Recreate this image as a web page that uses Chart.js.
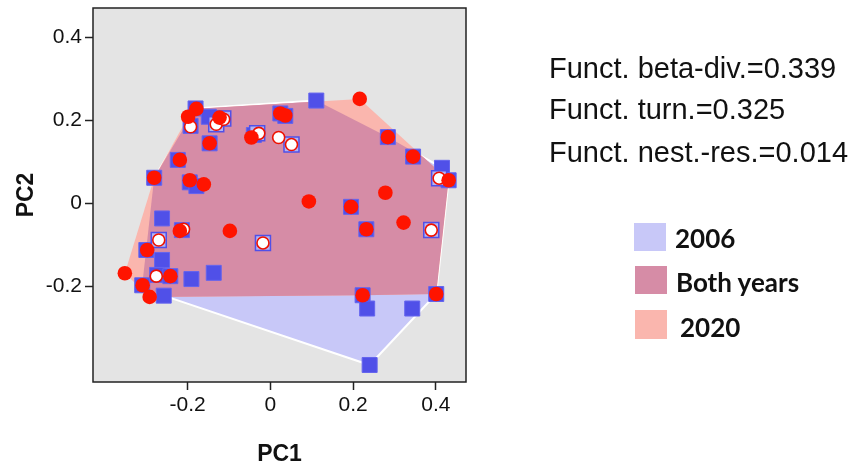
<!DOCTYPE html>
<html>
<head>
<meta charset="utf-8">
<title>Functional space 2006 / 2020</title>
<script src="https://cdn.jsdelivr.net/npm/chart.js@4.4.0/dist/chart.umd.min.js"></script>
<style>
    html, body { margin: 0; padding: 0; background: #ffffff; }
    #wrap { position: relative; width: 848px; height: 467px; overflow: hidden; }
    #pca { position: absolute; left: 0; top: 0; }
    .stat {
        position: absolute; left: 549px; height: 42px; line-height: 42px;
        font: 29px "Liberation Sans", Arial, sans-serif; color: #111; white-space: nowrap;
    }
    .key { position: absolute; width: 32px; height: 28px; }
    .keytxt {
        position: absolute; height: 30px; line-height: 30px;
        font: bold 26px Lato, "Open Sans", sans-serif; color: #111; white-space: nowrap;
    }
</style>
</head>
<body>
<div id="wrap">
    <canvas id="pca" width="848" height="467"></canvas>

    <div class="stat" style="top:52px">Funct. beta-div.=0.339</div>
    <div class="stat" style="top:93px">Funct. turn.=0.325</div>
    <div class="stat" style="top:136px">Funct. nest.-res.=0.014</div>

    <div class="key" style="left:634px; top:223px; background:#c8c8f8"></div>
    <div class="keytxt" style="left:675px; top:222px">2006</div>
    <div class="key" style="left:635px; top:266px; background:#d68ca6"></div>
    <div class="keytxt" style="left:676px; top:266px">Both years</div>
    <div class="key" style="left:635px; top:310px; height:29px; background:#fab6ae"></div>
    <div class="keytxt" style="left:680px; top:311px">2020</div>
</div>

<script>
// ============================================================================
// DATA (PC1, PC2)
// ============================================================================

// 2006 sites, filled squares
const sites2006 = [
    [-0.181, 0.228], [-0.149, 0.208], [-0.147, 0.144], [-0.224, 0.104],
    [-0.281, 0.061], [-0.195, 0.050], [-0.179, 0.041], [-0.040, 0.164],
    [0.024, 0.216], [0.036, 0.210], [0.111, 0.247], [0.284, 0.159],
    [0.345, 0.112], [0.415, 0.085], [0.431, 0.055], [0.195, -0.009],
    [0.232, -0.063], [0.223, -0.222], [0.234, -0.254], [0.343, -0.254],
    [0.401, -0.219], [0.240, -0.390], [-0.262, -0.037], [-0.214, -0.065],
    [-0.300, -0.113], [-0.262, -0.137], [-0.274, -0.173], [-0.242, -0.176],
    [-0.191, -0.183], [-0.137, -0.168], [-0.310, -0.198], [-0.258, -0.223],
    [-0.193, 0.186]
];

// 2006 sites, open squares (under the white circles)
const sites2006Open = [
    [-0.131, 0.190], [-0.114, 0.204], [-0.032, 0.168], [0.051, 0.141],
    [0.408, 0.060], [0.389, -0.065], [-0.018, -0.096], [-0.270, -0.089]
];

// 2020 sites, filled red circles
const sites2020 = [
    [-0.179, 0.227], [-0.199, 0.208], [-0.123, 0.206], [-0.147, 0.144],
    [-0.219, 0.104], [-0.281, 0.061], [-0.195, 0.055], [-0.161, 0.045],
    [-0.046, 0.158], [0.024, 0.216], [0.036, 0.211], [0.216, 0.251],
    [0.284, 0.159], [0.345, 0.112], [0.431, 0.055], [0.278, 0.025],
    [0.093, 0.004], [0.195, -0.009], [0.232, -0.063], [0.322, -0.047],
    [0.223, -0.222], [0.401, -0.219], [-0.098, -0.067], [-0.219, -0.067],
    [-0.298, -0.113], [-0.352, -0.169], [-0.242, -0.176], [-0.309, -0.198],
    [-0.292, -0.226]
];

// 2020 sites, white circles
const sites2020Open = [
    [-0.193, 0.184], [-0.131, 0.190], [-0.113, 0.202], [-0.028, 0.168],
    [0.020, 0.158], [0.051, 0.141], [0.408, 0.060], [0.389, -0.065],
    [-0.018, -0.096], [-0.270, -0.089], [-0.276, -0.176], [-0.210, -0.063]
];

const tickValues = [-0.2, 0, 0.2, 0.4];

const COL_2006 = '#c8c8f8';
const COL_BOTH = '#d68ca6';
const COL_2020 = '#fab6ae';
const FONT = '"Liberation Sans", Arial, sans-serif';

// ============================================================================
// HELPERS
// ============================================================================

/**
 * Convex hull (monotone chain)
 * @param {Array} pts - [x, y] pairs
 * @returns {Array} hull vertices
 */
function convexHull(pts) {
    const p = pts.slice().sort((a, b) => a[0] - b[0] || a[1] - b[1]);
    const cross = (o, a, b) => (a[0] - o[0]) * (b[1] - o[1]) - (a[1] - o[1]) * (b[0] - o[0]);
    const lower = [];
    for (const q of p) {
        while (lower.length >= 2 && cross(lower[lower.length - 2], lower[lower.length - 1], q) <= 0) lower.pop();
        lower.push(q);
    }
    const upper = [];
    for (let i = p.length - 1; i >= 0; i--) {
        const q = p[i];
        while (upper.length >= 2 && cross(upper[upper.length - 2], upper[upper.length - 1], q) <= 0) upper.pop();
        upper.push(q);
    }
    upper.pop();
    lower.pop();
    return lower.concat(upper);
}

const hull2006 = convexHull(sites2006.concat(sites2006Open));
const hull2020 = convexHull(sites2020.concat(sites2020Open));

const toXY = arr => arr.map(([x, y]) => ({ x, y }));

// background, hulls and frame below the points
const hullPlugin = {
    id: 'hulls',
    beforeDatasetsDraw(chart) {
        const { ctx, chartArea: a } = chart;
        const sx = chart.scales.x, sy = chart.scales.y;
        const toPath = function(pts) {
            const path = new Path2D();
            pts.forEach(([px, py], i) => {
                const X = sx.getPixelForValue(px), Y = sy.getPixelForValue(py);
                if (i === 0) path.moveTo(X, Y); else path.lineTo(X, Y);
            });
            path.closePath();
            return path;
        };
        ctx.save();
        ctx.fillStyle = '#e4e4e4';
        ctx.fillRect(a.left, a.top, a.width, a.height);

        const p06 = toPath(hull2006);
        const p20 = toPath(hull2020);
        ctx.fillStyle = COL_2006;
        ctx.fill(p06);
        ctx.strokeStyle = '#ffffff';
        ctx.lineWidth = 2;
        ctx.stroke(p06);
        ctx.fillStyle = COL_2020;
        ctx.fill(p20);
        // overlap of both hulls
        ctx.save();
        ctx.clip(p06);
        ctx.fillStyle = COL_BOTH;
        ctx.fill(p20);
        ctx.restore();

        ctx.strokeStyle = '#222222';
        ctx.lineWidth = 1.5;
        ctx.strokeRect(a.left, a.top, a.width, a.height);
        ctx.restore();
    }
};

function axisOptions(min, max, title, fit) {
    return {
        type: 'linear',
        min: min,
        max: max,
        afterBuildTicks: function(scale) {
            scale.ticks = tickValues.map(v => ({ value: v }));
        },
        afterFit: fit,
        border: { display: false },
        grid: {
            drawOnChartArea: false,
            drawTicks: true,
            tickLength: 8,
            tickColor: '#222222',
            tickWidth: 1.5
        },
        ticks: {
            autoSkip: false,
            maxRotation: 0,
            padding: 3,
            color: '#111111',
            font: { family: FONT, size: 21 },
            callback: function(value) {
                return Math.abs(value) < 1e-9 ? '0' : value.toFixed(1);
            }
        },
        title: {
            display: true,
            text: title,
            color: '#111111',
            font: { family: FONT, size: 23, weight: 'bold', lineHeight: 1 },
            padding: { top: 15.5, bottom: 0.5 }
        }
    };
}

// datasets listed top-most first (Chart.js draws index 0 last)
new Chart(document.getElementById('pca'), {
    type: 'scatter',
    data: {
        datasets: [
            {
                label: '2020',
                data: toXY(sites2020),
                pointStyle: 'circle',
                pointRadius: 7.3,
                backgroundColor: '#ff1400',
                borderWidth: 0
            },
            {
                label: '2020 open',
                data: toXY(sites2020Open),
                pointStyle: 'circle',
                pointRadius: 6,
                backgroundColor: '#ffffff',
                borderColor: '#ee1100',
                borderWidth: 1.6
            },
            {
                label: '2006 open',
                data: toXY(sites2006Open),
                pointStyle: 'rect',
                pointRadius: 10.6,
                backgroundColor: '#b4b4f2',
                borderColor: '#5050e8',
                borderWidth: 1.5
            },
            {
                label: '2006',
                data: toXY(sites2006),
                pointStyle: 'rect',
                pointRadius: 10.6,
                backgroundColor: '#5050e8',
                borderColor: '#6464ee',
                borderWidth: 1
            }
        ]
    },
    options: {
        responsive: false,
        animation: false,
        devicePixelRatio: 1,
        events: [],
        layout: {
            autoPadding: false,
            padding: { top: 8, right: 382, left: 0, bottom: 0 }
        },
        plugins: {
            legend: { display: false },
            tooltip: { enabled: false }
        },
        scales: {
            x: axisOptions(-0.429, 0.473, 'PC1', s => {
                s.height = 85;
                s.paddingLeft = 0;
                s.paddingRight = 0;
            }),
            y: axisOptions(-0.431, 0.470, 'PC2', s => {
                s.width = 93;
                s.paddingTop = 0;
                s.paddingBottom = 0;
            })
        }
    },
    plugins: [hullPlugin]
});
</script>
</body>
</html>
